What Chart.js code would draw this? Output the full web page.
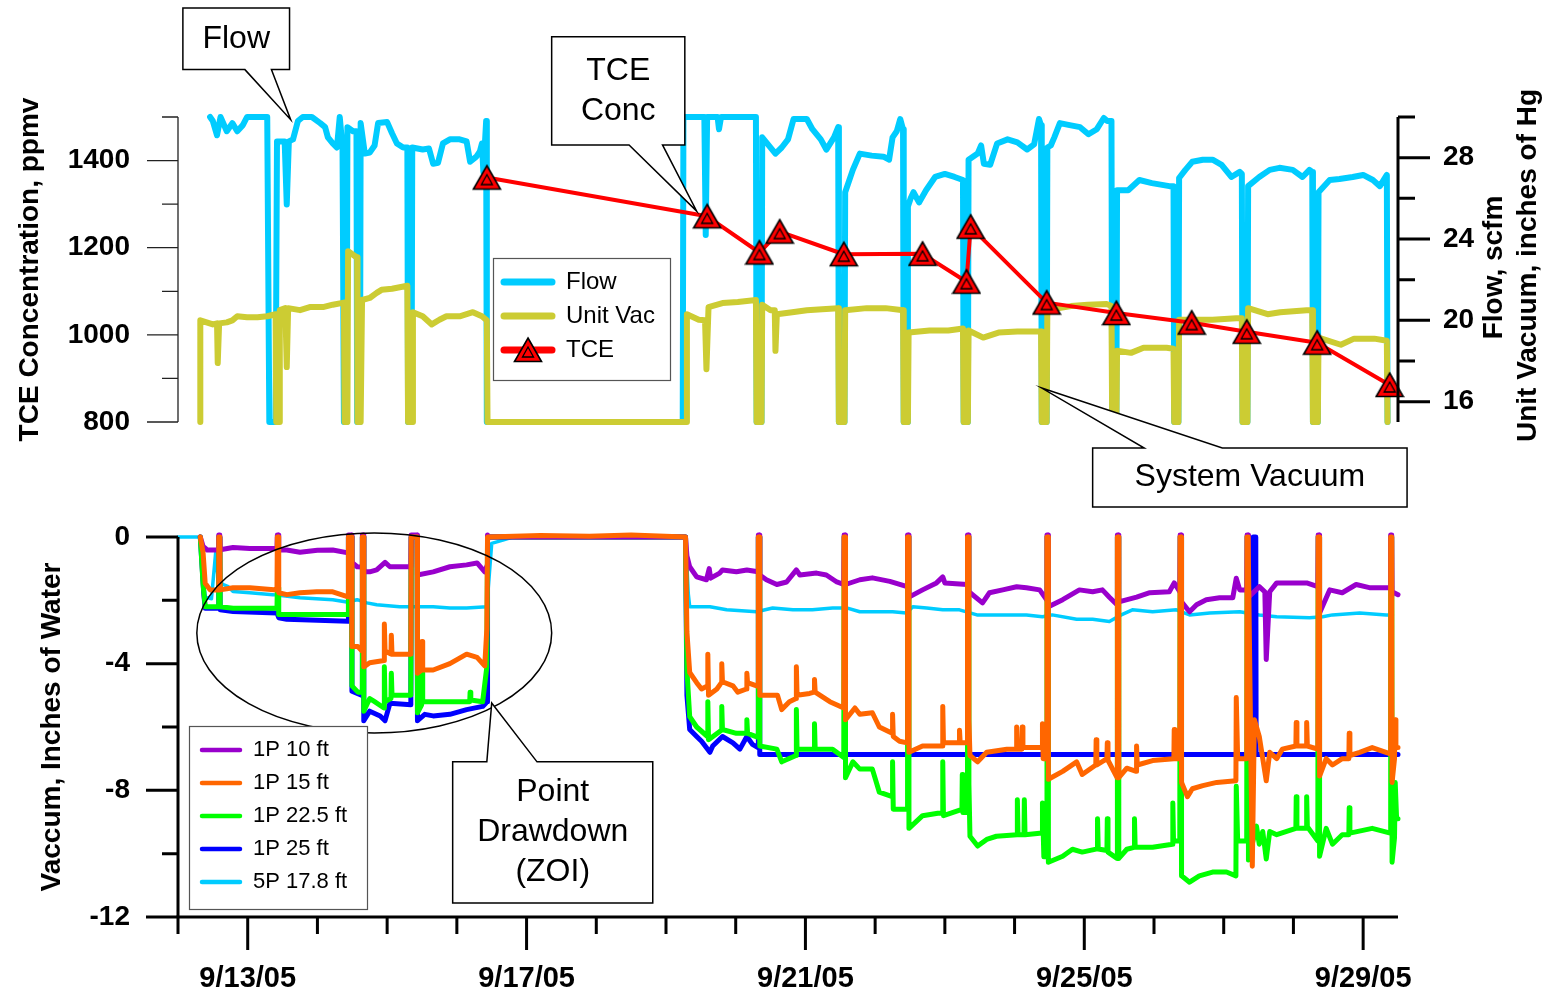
<!DOCTYPE html>
<html>
<head>
<meta charset="utf-8">
<script src="https://cdn.jsdelivr.net/npm/chart.js@4.4.1/dist/chart.umd.min.js"></script>
<style>
  body { margin: 0; background: #fff; }
  #wrap { position: relative; width: 1558px; height: 997px; }
  canvas { position: absolute; left: 0; top: 0; }
</style>
</head>
<body>
<div id="wrap">
  <canvas id="topChart" width="1558" height="997"></canvas>
  <canvas id="botChart" width="1558" height="997"></canvas>
</div>
<script>
// ---- ticks ----
const dateMajor = [13, 17, 21, 25, 29];
const dateLabels = ['9/13/05', '9/17/05', '9/21/05', '9/25/05', '9/29/05'];
const dateMinor = [12, 14, 15, 16, 18, 19, 20, 22, 23, 24, 26, 27, 28];
const tceMajor = [800, 1000, 1200, 1400];
const tceMinor = [900, 1100, 1300, 1500];
const flowMajor = [16, 20, 24, 28];
const flowMinor = [18, 22, 26, 30];
const vacMajor = [0, -4, -8, -12];
const vacMinor = [-2, -6, -10];

// ---- top chart: TCE (ppmv), flow (scfm), unit vacuum (in Hg) ----
const tceDays = [16.43, 19.59, 20.34, 20.63, 21.55, 22.68, 23.31, 23.37, 24.46, 25.46, 26.54, 27.33, 28.34, 29.38];
const tcePpmv = [1361, 1272, 1189, 1237, 1185, 1186, 1122, 1248, 1074, 1050, 1028, 1007, 982, 885];

const flowPts = [
  [12.46,30],[12.50,29.8],[12.56,29.1],[12.61,30],[12.70,29.3],[12.78,29.7],[12.85,29.3],[12.93,29.6],[12.99,30],[13.28,30],
  [13.31,15],[13.40,15],[13.42,28.8],[13.53,28.8],[13.56,25.7],[13.59,28.8],[13.65,28.9],[13.72,29.8],[13.79,30],[13.92,30],
  [14.04,29.7],[14.11,29.5],[14.15,29.0],[14.22,28.7],[14.28,28.5],[14.32,30],[14.36,28.5],[14.38,15],[14.42,15],[14.43,29.5],
  [14.51,29.3],[14.56,29.3],[14.57,15],[14.61,15],[14.62,29.7],[14.68,28.2],[14.75,28.25],[14.82,28.6],[14.87,29.7],[15.00,29.75],
  [15.07,29.2],[15.14,28.7],[15.23,28.5],[15.29,28.5],[15.30,15],[15.35,15],[15.36,28.5],[15.51,28.4],[15.60,28.45],[15.66,27.7],
  [15.73,27.75],[15.80,28.7],[15.90,28.9],[16.04,28.9],[16.14,28.8],[16.19,27.8],[16.28,28.05],[16.33,28.3],[16.36,28.7],[16.38,27.3],
  [16.42,29.8],[16.43,15],[19.24,15],[19.25,30],[19.55,30],[19.57,24.2],[19.59,30],[19.74,30],[19.76,29.4],[19.79,30],
  [20.29,30],[20.30,15],[20.37,15],[20.38,29.0],[20.57,28.2],[20.66,28.5],[20.75,28.9],[20.83,29.9],[21.02,29.9],[21.10,29.4],
  [21.22,28.9],[21.30,28.4],[21.41,29.0],[21.47,29.5],[21.48,15],[21.56,15],[21.57,26.3],[21.68,27.4],[21.78,28.2],[21.95,28.1],
  [22.12,28.05],[22.20,27.9],[22.25,29.0],[22.31,29.3],[22.36,29.9],[22.40,29.4],[22.41,15],[22.46,15],[22.47,25.6],[22.51,26.0],
  [22.55,26.3],[22.63,25.8],[22.73,26.4],[22.86,27.05],[23.00,27.2],[23.14,27.05],[23.26,26.9],[23.27,15],[23.33,15],[23.34,27.9],
  [23.47,28.2],[23.52,28.6],[23.56,27.7],[23.65,27.65],[23.75,28.7],[23.90,28.9],[24.04,28.75],[24.18,28.4],[24.28,28.65],[24.35,29.9],
  [24.38,29.6],[24.39,15],[24.46,15],[24.47,28.5],[24.52,28.6],[24.57,29.0],[24.65,29.7],[24.79,29.6],[24.94,29.5],[25.06,29.15],
  [25.18,29.4],[25.28,29.95],[25.33,29.8],[25.39,29.8],[25.40,15],[25.46,15],[25.47,26.4],[25.63,26.4],[25.79,26.9],[25.97,26.75],
  [26.22,26.6],[26.28,26.6],[26.29,15],[26.35,15],[26.36,27.0],[26.45,27.4],[26.55,27.8],[26.70,27.9],[26.84,27.9],[26.97,27.65],
  [27.11,27.05],[27.23,27.3],[27.26,27.2],[27.27,15],[27.34,15],[27.35,26.6],[27.51,27.05],[27.66,27.4],[27.80,27.5],[27.99,27.4],
  [28.13,27.05],[28.23,27.4],[28.27,27.3],[28.28,15],[28.35,15],[28.36,26.3],[28.52,26.9],[28.66,26.95],[28.85,27.05],[29.00,27.15],
  [29.14,26.9],[29.24,26.6],[29.34,27.15],[29.35,15]
];

const unitVacPts = [
  [12.32,15],[12.32,20.0],[12.41,19.9],[12.50,19.8],[12.56,19.85],[12.57,17.9],[12.59,19.85],[12.70,19.9],[12.78,20.0],[12.85,20.2],
  [12.99,20.15],[13.14,20.15],[13.28,20.2],[13.40,20.3],[13.41,15],[13.45,15],[13.46,20.5],[13.54,20.6],[13.56,17.7],[13.58,20.6],
  [13.75,20.5],[13.89,20.65],[14.08,20.65],[14.22,20.77],[14.38,20.87],[14.39,15],[14.43,15],[14.44,23.4],[14.54,23.15],[14.57,23.1],
  [14.575,15],[14.62,15],[14.64,21.0],[14.75,21.1],[14.85,21.35],[14.92,21.5],[15.07,21.55],[15.29,21.7],[15.30,15],[15.36,15],
  [15.37,20.4],[15.51,20.2],[15.64,19.8],[15.75,20.03],[15.85,20.2],[16.04,20.2],[16.23,20.4],[16.36,20.2],[16.43,20.0],[16.44,15],
  [19.29,15],[19.30,20.3],[19.47,20.03],[19.56,20.0],[19.58,17.6],[19.61,20.65],[19.81,20.85],[20.03,20.9],[20.29,21.0],[20.30,15],
  [20.37,15],[20.38,20.77],[20.50,20.5],[20.56,20.5],[20.57,18.5],[20.59,20.3],[20.81,20.4],[21.02,20.5],[21.24,20.55],[21.47,20.6],
  [21.48,15],[21.56,15],[21.57,20.5],[21.88,20.6],[22.15,20.6],[22.40,20.5],[22.41,15],[22.47,15],[22.48,19.4],[22.78,19.5],
  [23.05,19.5],[23.26,19.6],[23.27,15],[23.33,15],[23.34,19.5],[23.55,19.15],[23.77,19.4],[24.04,19.45],[24.38,19.45],[24.39,15],
  [24.46,15],[24.47,20.5],[24.81,20.7],[25.05,20.77],[25.32,20.8],[25.39,20.7],[25.40,15],[25.46,15],[25.47,18.5],[25.67,18.4],
  [25.85,18.65],[26.18,18.65],[26.28,18.6],[26.29,15],[26.35,15],[26.36,20.03],[26.61,20.03],[26.84,20.03],[27.18,20.1],[27.26,20.1],
  [27.27,15],[27.34,15],[27.35,20.6],[27.63,20.3],[27.81,20.4],[28.19,20.5],[28.27,20.5],[28.28,15],[28.35,15],[28.36,19.15],
  [28.68,18.8],[28.87,19.1],[29.16,19.1],[29.34,19.0],[29.35,15]
];

// ---- bottom chart: point vacuum, inches of water ----
const p1_10ft = [
  [12.32,0],[12.36,-0.3],[12.42,-0.41],[12.58,-0.41],[12.585,0.06],[12.60,0.06],[12.605,-0.4],[12.79,-0.33],[13.03,-0.36],[13.42,-0.36],
  [13.425,0.06],[13.44,0.06],[13.445,-0.41],[13.56,-0.41],[13.75,-0.48],[14.00,-0.42],[14.22,-0.41],[14.44,-0.5],[14.445,0.06],[14.49,0.06],
  [14.495,-0.8],[14.57,-0.94],[14.64,-0.95],[14.645,0.06],[14.66,0.06],[14.665,-1.1],[14.75,-1.1],[14.85,-1.04],[14.97,-0.8],[15.04,-0.94],
  [15.34,-0.94],[15.345,0.06],[15.43,0.06],[15.435,-1.2],[15.66,-1.1],[15.90,-0.94],[16.14,-0.88],[16.29,-0.82],[16.40,-1.1],[16.435,-0.9],
  [16.44,0.06],[16.46,0],[19.28,0],[19.30,-0.6],[19.34,-0.94],[19.44,-1.26],[19.58,-1.35],[19.62,-1.0],[19.64,-1.3],[19.77,-1.14],
  [19.81,-1.04],[20.01,-1.1],[20.16,-1.04],[20.32,-1.1],[20.325,0.06],[20.34,0.06],[20.345,-1.2],[20.44,-1.35],[20.59,-1.5],[20.73,-1.42],
  [20.87,-1.04],[20.92,-1.2],[21.16,-1.14],[21.30,-1.2],[21.45,-1.42],[21.55,-1.5],[21.555,0.06],[21.57,0.06],[21.575,-1.5],[21.78,-1.35],
  [21.96,-1.29],[22.21,-1.4],[22.46,-1.57],[22.465,0.06],[22.48,0.06],[22.485,-1.9],[22.68,-1.67],[22.88,-1.45],[22.97,-1.26],[23.00,-1.45],
  [23.32,-1.5],[23.325,0.06],[23.34,0.06],[23.345,-1.73],[23.54,-2.08],[23.64,-1.76],[23.83,-1.67],[24.03,-1.57],[24.17,-1.6],[24.36,-1.67],
  [24.46,-1.98],[24.465,0.06],[24.48,0.06],[24.485,-2.2],[24.69,-1.98],[24.93,-1.67],[25.12,-1.73],[25.26,-1.67],[25.36,-1.9],[25.47,-2.14],
  [25.475,0.06],[25.49,0.06],[25.495,-2.05],[25.75,-1.9],[25.94,-1.76],[26.22,-1.73],[26.29,-1.45],[26.37,-1.73],[26.375,0.06],[26.39,0.06],
  [26.395,-2.05],[26.51,-2.36],[26.61,-2.14],[26.75,-1.98],[26.94,-1.92],[27.13,-1.92],[27.18,-1.3],[27.23,-1.67],[27.33,-1.67],[27.335,0.06],
  [27.35,0.06],[27.355,-1.9],[27.51,-1.57],[27.59,-1.73],[27.61,-3.87],[27.66,-1.73],[27.76,-1.45],[27.94,-1.45],[28.19,-1.45],[28.35,-1.57],
  [28.355,0.06],[28.37,0.06],[28.375,-2.4],[28.52,-1.67],[28.70,-1.76],[28.90,-1.5],[29.09,-1.6],[29.39,-1.6],[29.395,0.06],[29.41,0.06],
  [29.415,-1.73],[29.50,-1.82]
];

const p1_15ft = [
  [12.32,0],[12.36,-0.5],[12.39,-1.46],[12.46,-1.67],[12.58,-1.67],[12.585,0],[12.60,0],[12.605,-1.67],[12.79,-1.6],[13.03,-1.6],
  [13.42,-1.67],[13.425,0],[13.44,0],[13.445,-1.76],[13.56,-1.82],[13.75,-1.76],[13.99,-1.73],[14.22,-1.73],[14.44,-1.89],[14.445,0],
  [14.49,0],[14.495,-3.46],[14.58,-3.46],[14.64,-3.6],[14.645,0],[14.66,0],[14.665,-4.1],[14.75,-3.97],[14.955,-3.9],[14.96,-2.75],
  [14.97,-3.6],[15.055,-3.7],[15.06,-3.1],[15.07,-3.7],[15.34,-3.7],[15.345,0],[15.43,0],[15.435,-4.3],[15.495,-4.2],[15.50,-3.3],
  [15.51,-4.2],[15.66,-4.2],[15.90,-4.0],[16.14,-3.7],[16.29,-3.8],[16.40,-4.07],[16.43,-2.9],[16.44,0],[17.20,0.05],[17.90,0.02],
  [18.50,0.06],[19.28,0],[19.30,-3.0],[19.34,-4.28],[19.44,-4.6],[19.51,-4.8],[19.595,-4.7],[19.60,-3.7],[19.61,-5.0],[19.73,-4.8],
  [19.795,-4.6],[19.80,-4.0],[19.81,-4.57],[19.96,-4.7],[20.03,-4.9],[20.155,-4.8],[20.16,-4.3],[20.17,-4.6],[20.32,-4.72],[20.325,0],
  [20.34,0],[20.345,-5.0],[20.60,-5.0],[20.66,-5.45],[20.77,-5.2],[20.865,-5.1],[20.87,-4.1],[20.88,-5.0],[21.06,-4.94],[21.125,-4.9],
  [21.13,-4.5],[21.14,-4.9],[21.35,-5.2],[21.55,-5.4],[21.555,0],[21.57,0],[21.575,-5.77],[21.71,-5.4],[21.78,-5.6],[21.96,-5.55],
  [22.06,-6.0],[22.245,-6.2],[22.25,-5.6],[22.26,-6.3],[22.35,-6.45],[22.46,-6.5],[22.465,0],[22.48,0],[22.485,-6.8],[22.68,-6.6],
  [22.965,-6.6],[22.97,-5.35],[22.98,-6.5],[23.205,-6.5],[23.21,-6.1],[23.22,-6.5],[23.32,-6.5],[23.325,0],[23.34,0],[23.345,-5.77],
  [23.36,-6.9],[23.47,-7.1],[23.60,-6.8],[23.89,-6.7],[24.025,-6.7],[24.03,-6.0],[24.04,-6.7],[24.105,-6.7],[24.11,-6.0],[24.12,-6.65],
  [24.395,-6.65],[24.40,-5.9],[24.41,-7.0],[24.46,-7.0],[24.465,0],[24.48,0],[24.485,-7.65],[24.69,-7.4],[24.89,-7.1],[24.97,-7.5],
  [25.165,-7.2],[25.17,-6.4],[25.18,-7.2],[25.325,-7.0],[25.33,-6.5],[25.34,-7.05],[25.47,-7.6],[25.475,0],[25.49,0],[25.495,-7.6],
  [25.61,-7.3],[25.745,-7.4],[25.75,-6.6],[25.76,-7.2],[25.98,-7.06],[26.285,-7.0],[26.29,-6.08],[26.30,-7.0],[26.37,-7.0],[26.375,0],
  [26.39,0],[26.395,-7.75],[26.48,-8.2],[26.55,-7.95],[26.70,-7.85],[26.90,-7.75],[27.175,-7.7],[27.18,-5.07],[27.20,-7.0],[27.33,-7.0],
  [27.335,0],[27.35,0],[27.41,-10.4],[27.44,-5.77],[27.51,-6.3],[27.56,-7.0],[27.61,-7.7],[27.66,-6.8],[27.76,-7.0],[27.84,-6.7],
  [28.035,-6.6],[28.04,-5.86],[28.05,-6.6],[28.185,-6.6],[28.19,-5.86],[28.20,-6.6],[28.35,-6.7],[28.355,0],[28.37,0],[28.375,-7.55],
  [28.47,-7.0],[28.56,-7.2],[28.70,-7.0],[28.795,-7.0],[28.80,-6.2],[28.81,-6.9],[28.95,-6.8],[29.13,-6.65],[29.39,-6.85],[29.395,0],
  [29.41,0],[29.415,-7.75],[29.45,-7.0],[29.46,-5.77],[29.47,-6.65],[29.50,-6.65]
];

const p1_22ft = [
  [12.32,0],[12.36,-1.5],[12.39,-2.2],[12.58,-2.2],[12.585,0],[12.60,0],[12.605,-2.2],[12.79,-2.25],[13.42,-2.25],[13.425,-1.6],
  [13.44,-1.6],[13.445,-2.45],[14.44,-2.45],[14.445,0],[14.49,0],[14.495,-4.7],[14.58,-4.9],[14.64,-4.9],[14.645,0],[14.66,0],
  [14.665,-5.5],[14.75,-5.1],[14.82,-5.2],[14.955,-5.4],[14.96,-4.1],[14.97,-5.2],[15.055,-5.1],[15.06,-4.3],[15.07,-5.0],[15.34,-5.0],
  [15.345,0],[15.43,0],[15.435,-5.55],[15.495,-5.3],[15.50,-4.3],[15.51,-5.2],[16.185,-5.2],[16.19,-4.9],[16.20,-5.15],[16.37,-5.2],
  [16.43,-4.1],[16.44,0],[19.28,0],[19.30,-4.2],[19.34,-5.67],[19.44,-6.0],[19.595,-6.3],[19.60,-5.2],[19.61,-6.4],[19.795,-6.1],
  [19.80,-5.35],[19.81,-6.08],[20.01,-6.2],[20.155,-6.2],[20.16,-5.77],[20.17,-6.2],[20.32,-6.33],[20.325,0],[20.34,0],[20.345,-6.6],
  [20.59,-6.7],[20.66,-7.1],[20.865,-6.9],[20.87,-5.45],[20.88,-6.7],[21.125,-6.7],[21.13,-5.9],[21.14,-6.7],[21.39,-6.7],[21.55,-6.96],
  [21.555,0],[21.57,0],[21.575,-7.6],[21.68,-7.1],[21.78,-7.33],[21.96,-7.33],[22.06,-8.06],[22.245,-8.2],[22.25,-7.1],[22.26,-8.6],
  [22.46,-8.6],[22.465,0],[22.48,0],[22.485,-9.2],[22.68,-8.8],[22.965,-8.7],[22.97,-7.1],[22.98,-8.8],[23.245,-8.6],[23.25,-7.5],
  [23.26,-8.7],[23.32,-8.7],[23.325,0],[23.34,0],[23.345,-7.8],[23.36,-9.45],[23.47,-9.76],[23.60,-9.55],[23.74,-9.45],[24.035,-9.4],
  [24.04,-8.3],[24.05,-9.4],[24.135,-9.4],[24.14,-8.3],[24.15,-9.4],[24.395,-9.35],[24.40,-8.4],[24.42,-10.1],[24.46,-10.1],[24.465,0],
  [24.48,0],[24.485,-10.27],[24.69,-10.08],[24.83,-9.86],[24.97,-9.95],[25.185,-9.85],[25.19,-8.9],[25.20,-9.85],[25.325,-9.9],[25.33,-8.9],
  [25.34,-9.95],[25.47,-10.15],[25.475,0],[25.49,0],[25.495,-10.15],[25.61,-9.86],[25.715,-9.8],[25.72,-8.9],[25.73,-9.8],[25.98,-9.8],
  [26.265,-9.7],[26.27,-8.4],[26.28,-9.6],[26.37,-9.6],[26.375,0],[26.39,0],[26.395,-10.7],[26.51,-10.9],[26.65,-10.7],[26.84,-10.58],
  [27.04,-10.58],[27.175,-10.7],[27.18,-7.87],[27.20,-9.6],[27.33,-9.6],[27.335,0],[27.35,0],[27.355,-10.2],[27.47,-9.13],[27.51,-9.7],
  [27.56,-9.3],[27.61,-10.17],[27.66,-9.3],[27.76,-9.4],[28.035,-9.2],[28.04,-8.2],[28.05,-9.2],[28.185,-9.2],[28.19,-8.2],[28.20,-9.15],
  [28.35,-9.6],[28.355,0],[28.37,0],[28.375,-10.08],[28.47,-9.2],[28.56,-9.7],[28.70,-9.4],[28.795,-9.4],[28.80,-8.55],[28.81,-9.35],
  [29.13,-9.2],[29.39,-9.35],[29.395,0],[29.41,0],[29.415,-10.27],[29.45,-9.5],[29.46,-7.75],[29.48,-8.9],[29.50,-8.9]
];

const p1_25ft = [
  [12.32,0],[12.37,-1.8],[12.39,-2.25],[12.58,-2.25],[12.585,0],[12.60,0],[12.605,-2.3],[12.79,-2.35],[13.42,-2.4],[13.445,-2.55],
  [13.56,-2.6],[14.44,-2.66],[14.445,0],[14.49,0],[14.495,-4.87],[14.64,-5.0],[14.645,0],[14.66,0],[14.665,-5.8],[14.75,-5.5],
  [14.90,-5.65],[14.97,-5.8],[15.04,-5.25],[15.34,-5.3],[15.345,0],[15.43,0],[15.435,-5.8],[15.54,-5.6],[15.66,-5.65],[15.90,-5.6],
  [16.14,-5.45],[16.37,-5.35],[16.435,-5.2],[16.44,0],[19.28,0],[19.30,-5.0],[19.34,-6.08],[19.44,-6.3],[19.51,-6.45],[19.63,-6.8],
  [19.67,-6.6],[19.81,-6.3],[19.96,-6.5],[20.06,-6.7],[20.16,-6.3],[20.24,-6.55],[20.32,-6.65],[20.325,0],[20.34,0],[20.345,-6.87],
  [27.42,-6.87],[27.425,0],[27.46,0],[27.465,-6.87],[29.50,-6.87]
];

const p5_17ft = [
  [12.00,0],[12.33,0],[12.36,-1.3],[12.39,-1.9],[12.48,-1.95],[12.54,-0.5],[12.58,-1.4],[12.65,-1.5],[12.72,-1.57],[12.79,-1.72],
  [13.03,-1.76],[13.36,-1.82],[13.75,-1.92],[14.22,-1.98],[14.42,-2.05],[14.57,-1.98],[14.71,-2.08],[14.85,-2.14],[15.18,-2.2],[15.66,-2.2],
  [15.90,-2.24],[16.14,-2.24],[16.43,-2.2],[16.50,-0.2],[16.66,-0.1],[16.80,0],[19.28,0],[19.32,-1.8],[19.34,-2.2],[19.63,-2.2],
  [19.87,-2.3],[20.30,-2.36],[20.53,-2.24],[20.82,-2.3],[21.10,-2.3],[21.39,-2.24],[21.59,-2.24],[21.78,-2.36],[22.25,-2.36],[22.45,-2.4],
  [22.54,-2.2],[22.74,-2.24],[22.97,-2.3],[23.21,-2.3],[23.46,-2.46],[23.93,-2.46],[24.17,-2.46],[24.40,-2.52],[24.54,-2.46],[24.89,-2.6],
  [25.12,-2.6],[25.36,-2.67],[25.53,-2.46],[25.69,-2.3],[25.98,-2.36],[26.32,-2.3],[26.51,-2.46],[26.80,-2.4],[27.23,-2.36],[27.51,-2.46],
  [27.76,-2.52],[28.23,-2.55],[28.42,-2.52],[28.56,-2.46],[28.95,-2.4],[29.33,-2.46],[29.42,-2.46]
];

// ---- drawing helpers ----
const FONT = '"Liberation Sans", Arial, Helvetica, sans-serif';

function triangleMarker() {
  const c = document.createElement('canvas');
  c.width = 30; c.height = 28;
  const g = c.getContext('2d');
  g.beginPath(); g.moveTo(15, 2); g.lineTo(28.5, 25.5); g.lineTo(1.5, 25.5); g.closePath();
  g.fillStyle = '#FF0000'; g.fill();
  g.lineWidth = 1.6; g.strokeStyle = '#000'; g.stroke();
  g.beginPath(); g.moveTo(15, 11); g.lineTo(20.5, 21); g.lineTo(9.5, 21); g.closePath();
  g.lineWidth = 1.3; g.stroke();
  return c;
}

function drawAxis(ctx, chart, a) {
  const s = chart.scales[a.scale], area = chart.chartArea;
  ctx.save();
  ctx.strokeStyle = a.color; ctx.lineWidth = a.width; ctx.lineCap = 'butt';
  ctx.beginPath();
  if (a.side === 'bottom') {
    ctx.moveTo(area.left - a.width / 2, area.bottom); ctx.lineTo(area.right, area.bottom);
    s.ticks.forEach(t => {
      const x = s.getPixelForValue(t.value);
      const len = a.major.includes(t.value) ? a.majorLen : a.minorLen;
      ctx.moveTo(x, area.bottom); ctx.lineTo(x, area.bottom + len);
    });
  } else {
    const x = a.side === 'left' ? area.left : area.right;
    const dir = a.side === 'left' ? -1 : 1;
    ctx.moveTo(x, area.top); ctx.lineTo(x, area.bottom);
    s.ticks.forEach(t => {
      const y = s.getPixelForValue(t.value);
      const len = a.major.includes(t.value) ? a.majorLen : a.minorLen;
      ctx.moveTo(x, y); ctx.lineTo(x + dir * len, y);
    });
  }
  ctx.stroke();
  ctx.restore();
}

function drawTitle(ctx, area, t) {
  const x = (t.from === 'left' ? area.left : area.right) + t.dx;
  const y = (area.top + area.bottom) / 2 + (t.dy || 0);
  ctx.save();
  ctx.translate(x, y); ctx.rotate(-Math.PI / 2);
  ctx.font = 'bold 28px ' + FONT; ctx.fillStyle = '#000';
  ctx.textAlign = 'center'; ctx.textBaseline = 'middle';
  ctx.fillText(t.text, 0, 0);
  ctx.restore();
}

function drawCallout(ctx, chart, c) {
  const sx = chart.scales[c.xAxis], sy = chart.scales[c.yAxis];
  const L = sx.getPixelForValue(c.box[0]), R = sx.getPixelForValue(c.box[1]);
  const ya = sy.getPixelForValue(c.box[2]), yb = sy.getPixelForValue(c.box[3]);
  const T = Math.min(ya, yb), B = Math.max(ya, yb);
  const b1 = sx.getPixelForValue(c.base[0]), b2 = sx.getPixelForValue(c.base[1]);
  const tx = sx.getPixelForValue(c.tip[0]), ty = sy.getPixelForValue(c.tip[1]);
  ctx.save();
  ctx.beginPath();
  ctx.moveTo(L, T);
  if (c.side === 'top') { ctx.lineTo(b1, T); ctx.lineTo(tx, ty); ctx.lineTo(b2, T); }
  ctx.lineTo(R, T); ctx.lineTo(R, B);
  if (c.side === 'bottom') { ctx.lineTo(b2, B); ctx.lineTo(tx, ty); ctx.lineTo(b1, B); }
  ctx.lineTo(L, B); ctx.closePath();
  ctx.fillStyle = '#fff'; ctx.fill();
  ctx.strokeStyle = '#000'; ctx.lineWidth = 1.5; ctx.lineJoin = 'miter'; ctx.stroke();
  ctx.fillStyle = '#000'; ctx.font = '32px ' + FONT;
  ctx.textAlign = 'center'; ctx.textBaseline = 'middle';
  const cy = (T + B) / 2, lh = 40;
  c.lines.forEach((txt, i) => ctx.fillText(txt, (L + R) / 2, cy + (i - (c.lines.length - 1) / 2) * lh));
  ctx.restore();
}

function drawEllipse(ctx, chart, e) {
  const sx = chart.scales[e.xAxis], sy = chart.scales[e.yAxis];
  const x1 = sx.getPixelForValue(e.x[0]), x2 = sx.getPixelForValue(e.x[1]);
  const y1 = sy.getPixelForValue(e.y[0]), y2 = sy.getPixelForValue(e.y[1]);
  ctx.save();
  ctx.beginPath();
  ctx.ellipse((x1 + x2) / 2, (y1 + y2) / 2, Math.abs(x2 - x1) / 2, Math.abs(y2 - y1) / 2, 0, 0, Math.PI * 2);
  ctx.strokeStyle = '#000'; ctx.lineWidth = 1.5; ctx.stroke();
  ctx.restore();
}

function drawLegend(ctx, chart, L) {
  const area = chart.chartArea;
  const x0 = area.left + L.dx, y0 = area.top + L.dy;
  ctx.save();
  ctx.fillStyle = '#fff'; ctx.fillRect(x0, y0, L.w, L.h);
  ctx.strokeStyle = '#555'; ctx.lineWidth = 1.2; ctx.strokeRect(x0 + 0.5, y0 + 0.5, L.w, L.h);
  chart.data.datasets.forEach((ds, i) => {
    const y = y0 + L.first + i * L.step;
    ctx.strokeStyle = ds.borderColor; ctx.lineWidth = L.lineWidth; ctx.lineCap = 'round';
    ctx.beginPath(); ctx.moveTo(x0 + L.s0, y); ctx.lineTo(x0 + L.s1, y); ctx.stroke();
    if (ds.pointStyle instanceof HTMLCanvasElement) {
      const m = ds.pointStyle;
      ctx.drawImage(m, x0 + (L.s0 + L.s1) / 2 - m.width / 2, y - m.height / 2);
    }
    ctx.fillStyle = '#000'; ctx.font = L.font;
    ctx.textAlign = 'left'; ctx.textBaseline = 'middle';
    ctx.fillText(ds.label, x0 + L.tx, y);
  });
  ctx.restore();
}

const decor = (cfg) => ({
  id: 'decor',
  afterDraw(chart) {
    const ctx = chart.ctx, area = chart.chartArea;
    (cfg.ellipses || []).forEach(e => drawEllipse(ctx, chart, e));
    (cfg.callouts || []).forEach(c => drawCallout(ctx, chart, c));
    if (cfg.legend) drawLegend(ctx, chart, cfg.legend);
    (cfg.axes || []).forEach(a => drawAxis(ctx, chart, a));
    (cfg.titles || []).forEach(t => drawTitle(ctx, area, t));
  }
});

const tickFont = { family: FONT, size: 28, weight: 'bold' };
const setTicks = (vals) => (scale) => { scale.ticks = vals.slice().sort((a, b) => a - b).map(v => ({ value: v })); };
const yAxis = (pos, min, max, major, minor, width, pad) => ({
  type: 'linear', position: pos, min, max,
  afterBuildTicks: setTicks(major.concat(minor)),
  afterFit: (s) => { s.width = width; },
  grid: { display: false, drawTicks: false },
  border: { display: false },
  ticks: { padding: pad, color: '#000', font: tickFont, callback: (v) => major.includes(v) ? String(v) : '' }
});
const lineDs = (label, pts, color, width, axis, order) => ({
  label, data: pts, borderColor: color, backgroundColor: color, borderWidth: width,
  yAxisID: axis, order, pointRadius: 0, pointHoverRadius: 0, tension: 0,
  borderJoinStyle: 'round', borderCapStyle: 'round', clip: false
});

const marker = triangleMarker();

// ---- top chart ----
new Chart(document.getElementById('topChart'), {
  type: 'line',
  data: {
    datasets: [
      lineDs('Flow', flowPts, '#00CCFF', 6, 'yR', 2),
      lineDs('Unit Vac', unitVacPts, '#CCCC33', 6, 'yR', 1),
      Object.assign(lineDs('TCE', tceDays.map((d, i) => [d, tcePpmv[i]]), '#FF0000', 4, 'yL', 0),
        { pointStyle: marker, pointRadius: 12, borderCapStyle: 'butt' })
    ]
  },
  options: {
    responsive: false, animation: false, devicePixelRatio: 1, events: [],
    layout: { padding: { top: 117, bottom: 575, left: 0, right: 0 } },
    plugins: { legend: { display: false }, tooltip: { enabled: false } },
    scales: {
      x: { type: 'linear', min: 12, max: 29.5, display: false },
      yL: yAxis('left', 800, 1500, tceMajor, tceMinor, 178, 48),
      yR: yAxis('right', 15, 30, flowMajor, flowMinor, 160, 45)
    }
  },
  plugins: [decor({
    callouts: [
      { xAxis: 'x', yAxis: 'yR', box: [12.07, 13.6, 32.33, 35.36], side: 'bottom', base: [12.96, 13.34], tip: [13.616, 29.87], lines: ['Flow'] },
      { xAxis: 'x', yAxis: 'yL', box: [17.36, 19.27, 1436, 1684], side: 'bottom', base: [18.47, 18.95], tip: [19.44, 1284], lines: ['TCE', 'Conc'] },
      { xAxis: 'x', yAxis: 'yR', box: [25.12, 29.63, 10.82, 13.72], side: 'top', base: [25.86, 26.98], tip: [24.39, 16.67], lines: ['System Vacuum'] }
    ],
    legend: { dx: 315, dy: 141, w: 177, h: 122, first: 24, step: 34, s0: 11, s1: 59, tx: 73, lineWidth: 7, font: '24px ' + FONT },
    axes: [
      { scale: 'yL', side: 'left', major: tceMajor, majorLen: 31, minorLen: 16, width: 1.3, color: '#222' },
      { scale: 'yR', side: 'right', major: flowMajor, majorLen: 32, minorLen: 17, width: 3, color: '#000' }
    ],
    titles: [
      { text: 'TCE Concentration, ppmv', from: 'left', dx: -148 },
      { text: 'Flow, scfm', from: 'right', dx: 96, dy: -2 },
      { text: 'Unit Vacuum, inches of Hg', from: 'right', dx: 130, dy: -4 }
    ]
  })]
});

// ---- bottom chart ----
new Chart(document.getElementById('botChart'), {
  type: 'line',
  data: {
    datasets: [
      lineDs('1P 10 ft', p1_10ft, '#9900CC', 5, 'y', 1),
      lineDs('1P 15 ft', p1_15ft, '#FF6600', 5, 'y', 0),
      lineDs('1P 22.5 ft', p1_22ft, '#00FF00', 5, 'y', 2),
      lineDs('1P 25 ft', p1_25ft, '#0000FF', 5, 'y', 3),
      lineDs('5P 17.8 ft', p5_17ft, '#00CCFF', 3.5, 'y', 4)
    ]
  },
  options: {
    responsive: false, animation: false, devicePixelRatio: 1, events: [],
    layout: { padding: { top: 537, bottom: 0, left: 0, right: 160 } },
    plugins: { legend: { display: false }, tooltip: { enabled: false } },
    scales: {
      x: {
        type: 'linear', position: 'bottom', min: 12, max: 29.5,
        afterBuildTicks: setTicks(dateMajor.concat(dateMinor)),
        afterFit: (s) => { s.height = 80; },
        grid: { display: false, drawTicks: false },
        border: { display: false },
        ticks: {
          padding: 45, color: '#000', font: { family: FONT, size: 29, weight: 'bold' },
          autoSkip: false, maxRotation: 0, minRotation: 0,
          callback: (v) => { const i = dateMajor.indexOf(v); return i >= 0 ? dateLabels[i] : ''; }
        }
      },
      y: yAxis('left', -12, 0, vacMajor, vacMinor, 178, 48)
    }
  },
  plugins: [decor({
    ellipses: [{ xAxis: 'x', yAxis: 'y', x: [12.27, 17.36], y: [0.13, -6.19] }],
    callouts: [
      { xAxis: 'x', yAxis: 'y', box: [15.94, 18.81, -7.1, -11.56], side: 'top', base: [16.43, 17.15], tip: [16.5, -5.24], lines: ['Point', 'Drawdown', '(ZOI)'] }
    ],
    legend: { dx: 11, dy: 189, w: 178, h: 183, first: 24, step: 33, s0: 13, s1: 51, tx: 64, lineWidth: 4.5, font: '22px ' + FONT },
    axes: [
      { scale: 'y', side: 'left', major: vacMajor, majorLen: 32, minorLen: 16, width: 3, color: '#000' },
      { scale: 'x', side: 'bottom', major: dateMajor, majorLen: 33, minorLen: 17, width: 3, color: '#000' }
    ],
    titles: [{ text: 'Vaccum, Inches of Water', from: 'left', dx: -126 }]
  })]
});
</script>
</body>
</html>
